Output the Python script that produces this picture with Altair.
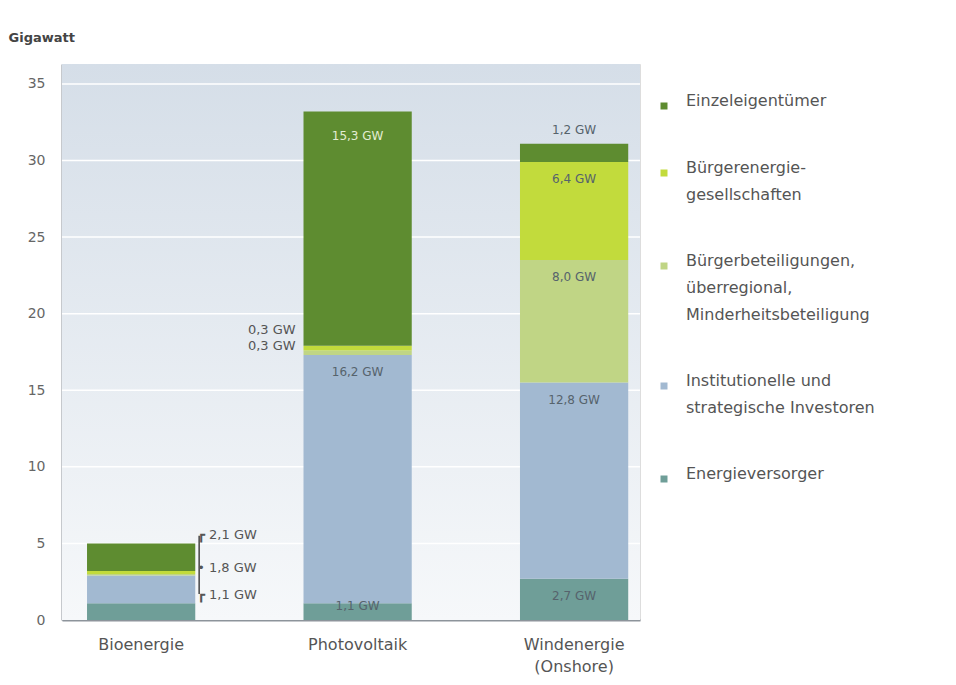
import altair as alt
import pandas as pd

# ---- data (GW) ----
categories = ["Bioenergie", "Photovoltaik", "Windenergie|(Onshore)"]
segments = [  # bottom -> top
    "Energieversorger",
    "Institutionelle und|strategische Investoren",
    "Bürgerbeteiligungen,|überregional,|Minderheitsbeteiligung",
    "Bürgerenergie-|gesellschaften",
    "Einzeleigentümer",
]
colors = ["#6f9e98", "#a2b9d1", "#c0d585", "#c2db3c", "#5e8c30"]

bio_values = [1.1, 1.8, 0.1, 0.2, 1.8]
pv_values = [1.1, 16.2, 0.3, 0.3, 15.3]
wind_values = [2.7, 12.8, 8.0, 6.4, 1.2]

y_ticks = [0, 5, 10, 15, 20, 25, 30, 35]

rows = []
for cat, vals in zip(categories, [bio_values, pv_values, wind_values]):
    cum = 0.0
    for i, (seg, v) in enumerate(zip(segments, vals)):
        cum += v
        rows.append({"cat": cat, "seg": seg, "rank": i, "value": v,
                     "top": round(cum, 2),
                     "label": f"{v:.1f} GW".replace(".", ",")})
df = pd.DataFrame(rows)

FONT = "DejaVu Sans"

x_enc = alt.X("cat:N", sort=categories, title=None,
              scale=alt.Scale(domain=categories, paddingInner=0.5, paddingOuter=0.085,
                              align=0.68),
              axis=alt.Axis(labelExpr="split(datum.label, '|')", labelAngle=0,
                            labelFontSize=16, labelColor="#555", labelFont=FONT,
                            ticks=False, domainColor="#8d949b", domainWidth=2,
                            labelPadding=16, labelLineHeight=22))
y_scale = alt.Scale(domain=[0, 36.3], nice=False)

background = alt.Chart(alt.Data(values=[{"a": 1}])).mark_rect(
    fill=alt.LinearGradient(gradient="linear", x1=0, y1=0, x2=0, y2=1,
                            stops=[alt.GradientStop(offset=0, color="#d5dee8"),
                                   alt.GradientStop(offset=1, color="#f6f8fa")])
).encode(x=alt.value(0), x2=alt.value(578), y=alt.value(0), y2=alt.value(556))

grid = alt.Chart(pd.DataFrame({"t": y_ticks[1:]})).mark_rule(
    color="#ffffff", strokeWidth=1.5).encode(y=alt.Y("t:Q", scale=y_scale))

bars = alt.Chart(df).mark_bar().encode(
    x=x_enc,
    y=alt.Y("value:Q", stack="zero", scale=y_scale,
            axis=alt.Axis(values=y_ticks, title="Gigawatt", grid=False,
                          titleAngle=0, titleAlign="left", titleBaseline="top",
                          titleX=-54, titleY=-33, titleFontSize=13, titleFont=FONT,
                          titleFontWeight="bold", titleColor="#444",
                          labelFontSize=14, labelColor="#666", labelFont=FONT,
                          labelPadding=17, ticks=False, domainColor="#8d949b",
                          domainWidth=2)),
    color=alt.Color("seg:N",
                    scale=alt.Scale(domain=segments[::-1], range=colors[::-1]),
                    legend=alt.Legend(title=None, orient="none", legendX=594, legendY=34,
                                      labelExpr="split(datum.label, '|')",
                                      labelFontSize=16, labelColor="#555", labelFont=FONT,
                                      symbolType="square", symbolSize=49,
                                      symbolStrokeWidth=0, rowPadding=50,
                                      labelBaseline="alphabetic", labelOffset=14,
                                      labelLimit=320)),
    order=alt.Order("rank:Q", sort="ascending"),
)

def lbl(data, color, dy, dx=0, align="center", size=12):
    return alt.Chart(data).mark_text(fontSize=size, font=FONT, color=color, dy=dy, dx=dx,
                                     align=align).encode(
        x=alt.X("cat:N", sort=categories),
        y=alt.Y("top:Q", scale=y_scale),
        text="label:N",
    )

pv = df[df.cat == "Photovoltaik"]
wind = df[df.cat.str.startswith("Wind")]
bio = df[df.cat == "Bioenergie"]

inside_gray = pd.concat([pv[pv["rank"] == 1], wind[wind["rank"].isin([0, 1, 2, 3])]])
inside_light = pv[pv["rank"] == 4]
pv_bottom = pv[pv["rank"] == 0]
wind_top = wind[wind["rank"] == 4]
pv_hi = pv[pv["rank"] == 3]
pv_lo = pv[pv["rank"] == 2]

def gw(v):
    return f"{v:.1f} GW".replace(".", ",")

# Bioenergie: Einzeleigentümer + Bürger (bracket), Institutionelle, Energieversorger
bio_groups = pd.DataFrame({
    "cat": ["Bioenergie"] * 3,
    "top": [bio["top"].iloc[4], bio["top"].iloc[1], bio["top"].iloc[0]],
    "label": ["┏ " + gw(sum(bio_values[2:])), "• " + gw(bio_values[1]),
              "┏ " + gw(bio_values[0])],
})
bracket = pd.DataFrame({"cat": ["Bioenergie"], "y1": [bio["top"].iloc[0] + 0.6],
                        "y2": [bio["top"].iloc[4] + 0.5]})
bracket_rule = alt.Chart(bracket).mark_rule(color="#444", strokeWidth=1.5, xOffset=58).encode(
    x=alt.X("cat:N", sort=categories),
    y=alt.Y("y1:Q", scale=y_scale), y2="y2:Q")

chart = alt.layer(
    background,
    grid,
    bars,
    lbl(inside_gray, "#56636c", 17),
    lbl(inside_light, "#e3edd3", 25),
    lbl(pv_bottom, "#56636c", 3),
    lbl(wind_top, "#56636c", -14),
    lbl(pv_hi, "#555", -16, dx=-62, align="right", size=13),
    lbl(pv_lo, "#555", -4, dx=-62, align="right", size=13),
    bracket_rule,
    alt.Chart(bio_groups).mark_text(fontSize=13, font=FONT, color="#555", dx=56, dy=-8,
                                    align="left").encode(
        x=alt.X("cat:N", sort=categories), y=alt.Y("top:Q", scale=y_scale), text="label:N"),
).properties(
    width=578, height=556,
    autosize=alt.AutoSizeParams(type="none"),
    padding={"left": 54, "top": 56, "right": 300, "bottom": 58},
).configure_view(stroke=None).configure(
    background="#ffffff",
    style={"guide-label": {"lineHeight": 27}},
)

chart.save("out.html", embed_options={"renderer": "svg", "actions": False})
